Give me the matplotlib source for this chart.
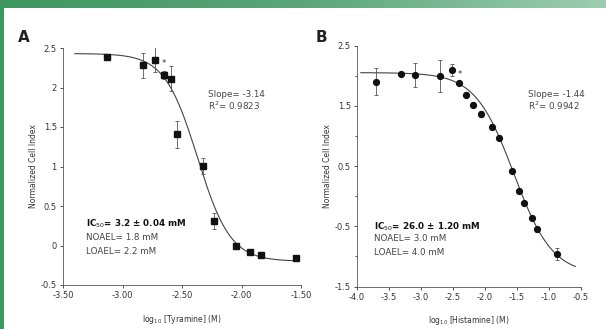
import numpy as np
import matplotlib
matplotlib.use("Agg")
from matplotlib import pyplot as plt
from matplotlib.ticker import MultipleLocator, FormatStrFormatter

# Panel A: tyramine
tyr_logc = [-3.13, -2.83, -2.73, -2.65, -2.59, -2.54, -2.32, -2.23, -2.05, -1.93, -1.84, -1.54]
tyr_ci = [2.38, 2.28, 2.35, 2.16, 2.11, 1.41, 1.01, 0.31, 0.00, -0.08, -0.12, -0.16]
tyr_err = [0.03, 0.16, 0.16, 0.05, 0.16, 0.17, 0.10, 0.10, 0.03, 0.03, 0.04, 0.03]
# fitted curve: top, bottom, log IC50 (curve midpoint), hill slope
tyr_fit = (2.43, -0.20, -2.37, 3.14)
tyr_range = (-3.40, -1.52)

# Panel B: histamine
his_logc = [-3.71, -3.31, -3.09, -2.70, -2.51, -2.40, -2.30, -2.19, -2.06, -1.89,
            -1.78, -1.58, -1.47, -1.39, -1.26, -1.19, -0.87]
his_ci = [1.90, 2.02, 2.01, 1.99, 2.10, 1.87, 1.68, 1.52, 1.36, 1.15,
          0.97, 0.41, 0.08, -0.12, -0.36, -0.55, -0.96]
his_err = [0.22, 0.03, 0.20, 0.27, 0.10, 0.03, 0.04, 0.04, 0.05, 0.04,
           0.04, 0.03, 0.03, 0.03, 0.03, 0.04, 0.10]
his_fit = (2.05, -1.30, -1.55, 1.44)
his_range = (-3.94, -0.59)


def logistic(x, top, bottom, x0, hill):
    return bottom + (top - bottom) / (1 + 10 ** ((x - x0) * hill))


fig = plt.figure(figsize=(6.06, 3.29), dpi=100)

# green frame (top band + left strip)
band = fig.add_axes([0, 1 - 8 / 329, 1, 8 / 329])
grad = np.linspace(0, 1, 256).reshape(1, -1)
cmap = matplotlib.colors.LinearSegmentedColormap.from_list("g", ["#3f9760", "#5aa677", "#9ccdb0"])
band.imshow(grad, aspect="auto", cmap=cmap)
band.axis("off")
strip = fig.add_axes([0, 0, 4 / 606, 1])
strip.set_facecolor("#3f9760")
strip.set_xticks([])
strip.set_yticks([])
for s in strip.spines.values():
    s.set_visible(False)

tick_kw = dict(labelsize=6, length=2.5, width=0.6, colors="#333333", pad=2)
txt = dict(fontsize=6.3, color="#444444")

def style(ax):
    for side in ["top", "right"]:
        ax.spines[side].set_visible(False)
    for side in ["left", "bottom"]:
        ax.spines[side].set_linewidth(0.6)
        ax.spines[side].set_color("#555555")
    ax.tick_params(which="both", **tick_kw)
    ax.tick_params(which="minor", length=1.5)
    ax.set_ylabel("Normalized Cell Index", fontsize=5.5, color="#333333", labelpad=2)


# ---- Panel A
axA = fig.add_axes([63 / 606, 1 - 285 / 329, 238 / 606, 237 / 329])
xs = np.linspace(*tyr_range, 300)
axA.plot(xs, logistic(xs, *tyr_fit), color="#444444", lw=0.8)
axA.errorbar(tyr_logc, tyr_ci, yerr=tyr_err, fmt="s", ms=4.2, color="#111111",
             ecolor="#555555", elinewidth=0.6, capsize=1.5, capthick=0.6)
axA.text(-2.65, 2.27, "*", fontsize=6, color="#333333", ha="center")
axA.set_xlim(-3.5, -1.5)
axA.set_ylim(-0.5, 2.5)
axA.xaxis.set_major_locator(MultipleLocator(0.5))
axA.xaxis.set_major_formatter(FormatStrFormatter("%.2f"))
axA.yaxis.set_major_locator(MultipleLocator(0.5))
axA.yaxis.set_major_formatter(FormatStrFormatter("%g"))
style(axA)
axA.set_xlabel("log$_{10}$ [Tyramine] (M)", fontsize=5.5, color="#333333", labelpad=9)
axA.text(-2.28, 1.88, "Slope= -3.14", **txt)
axA.text(-2.28, 1.72, "R$^2$= 0.9823", **txt)
axA.text(-3.31, 0.27, "IC$_{50}$= 3.2 ± 0.04 mM", fontsize=6.3, fontweight="bold", color="#111111", va="center")
axA.text(-3.31, 0.10, "NOAEL= 1.8 mM", va="center", **txt)
axA.text(-3.31, -0.07, "LOAEL= 2.2 mM", va="center", **txt)

# ---- Panel B
axB = fig.add_axes([357 / 606, 1 - 286.5 / 329, 224 / 606, 241 / 329])
xs = np.linspace(*his_range, 300)
axB.plot(xs, logistic(xs, *his_fit), color="#444444", lw=0.8)
axB.errorbar(his_logc, his_ci, yerr=his_err, fmt="o", ms=4.2, color="#111111",
             ecolor="#555555", elinewidth=0.6, capsize=1.5, capthick=0.6)
axB.text(-2.40, 1.98, "*", fontsize=6, color="#333333", ha="center")
axB.set_xlim(-4.0, -0.5)
axB.set_ylim(-1.5, 2.5)
axB.xaxis.set_major_locator(MultipleLocator(0.5))
axB.xaxis.set_major_formatter(FormatStrFormatter("%.1f"))
axB.yaxis.set_minor_locator(MultipleLocator(0.5))
axB.set_yticks([-1.5, -0.5, 0.5, 1.5, 2.5])
axB.yaxis.set_major_formatter(FormatStrFormatter("%g"))
style(axB)
axB.set_xlabel("log$_{10}$ [Histamine] (M)", fontsize=5.5, color="#333333", labelpad=9)
axB.text(-1.33, 1.65, "Slope= -1.44", **txt)
axB.text(-1.33, 1.43, "R$^2$= 0.9942", **txt)
axB.text(-3.73, -0.51, "IC$_{50}$= 26.0 ± 1.20 mM", fontsize=6.3, fontweight="bold", color="#111111", va="center")
axB.text(-3.73, -0.71, "NOAEL= 3.0 mM", va="center", **txt)
axB.text(-3.73, -0.93, "LOAEL= 4.0 mM", va="center", **txt)

# panel letters
fig.text(18 / 606, 1 - 38 / 329, "A", fontsize=11, fontweight="bold", color="#222222", va="center")
fig.text(316 / 606, 1 - 38 / 329, "B", fontsize=11, fontweight="bold", color="#222222", va="center")

fig.savefig("out.png", dpi=100)
